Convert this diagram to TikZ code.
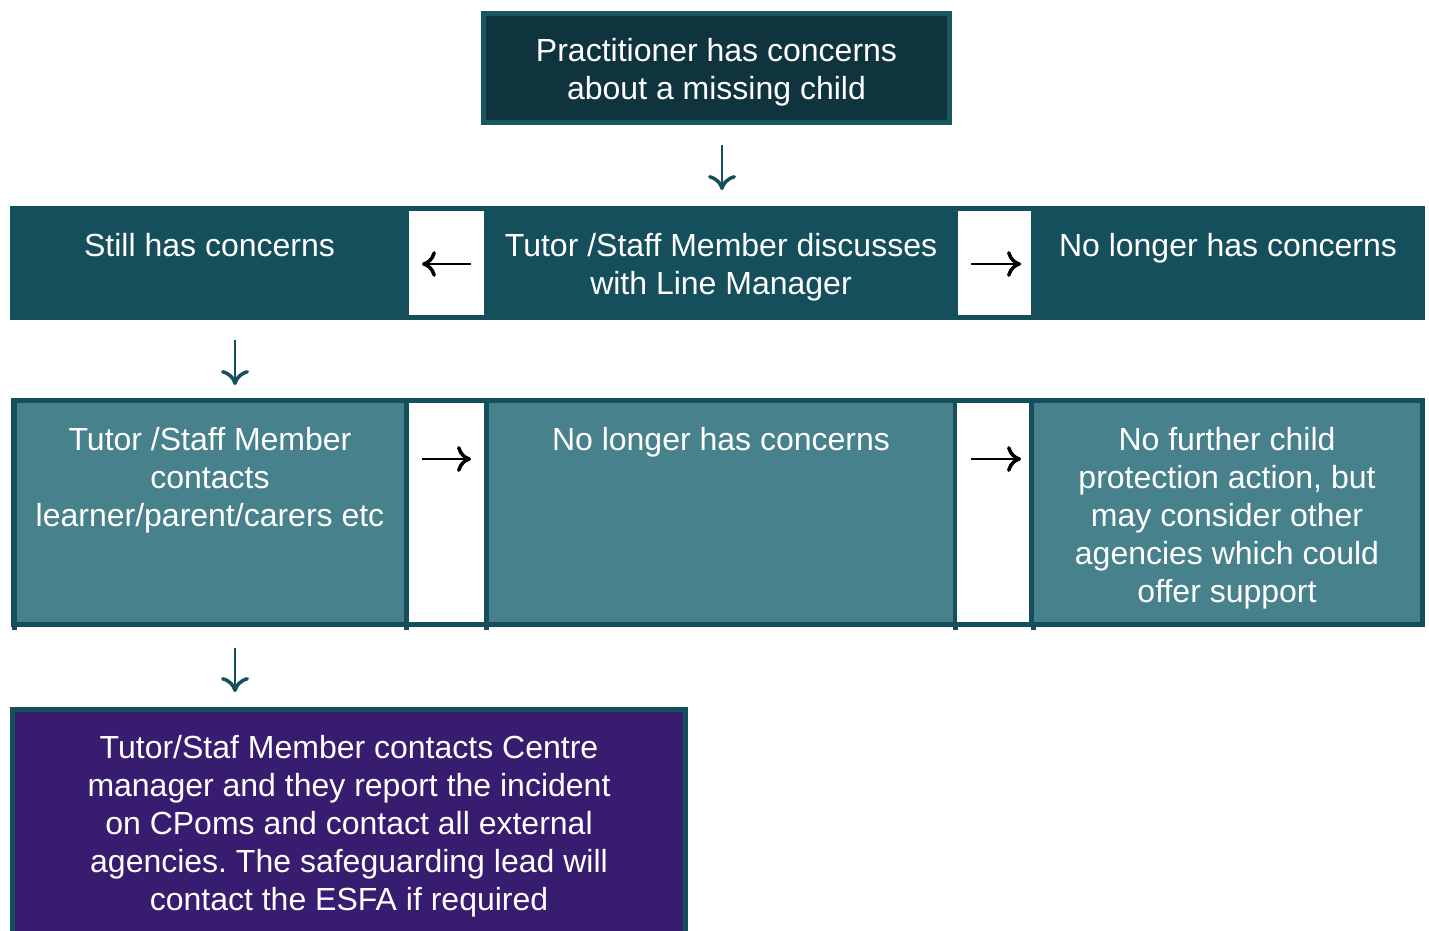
\documentclass[tikz,border=0pt]{standalone}
\usepackage{fontspec}
\setmainfont{Liberation Sans}
\usetikzlibrary{arrows.meta}
\definecolor{topfill}{HTML}{10343E}
\definecolor{topline}{HTML}{1A5562}
\definecolor{darkteal}{HTML}{164F5C}
\definecolor{lightteal}{HTML}{47818C}
\definecolor{purplebox}{HTML}{371C70}
\frenchspacing
\begin{document}
\begin{tikzpicture}[x=1pt,y=-1pt,
  txt/.style={text=white, font=\fontsize{32}{38}\selectfont\frenchspacing, align=center, inner sep=0pt, anchor=north},
  cell/.style={inner sep=0pt, outer sep=0pt, anchor=north west},
  downarrow/.style={draw=darkteal, line width=2.5pt, -{Computer Modern Rightarrow[length=15pt,width=28pt,line width=3.5pt]}},
  sidearrow/.style={draw=black, line width=2.2pt, -{Computer Modern Rightarrow[length=14pt,width=26pt,line width=3.5pt]}},
]
\clip (0,0) rectangle (1429,930);
\fill[white] (0,0) rectangle (1429,930);

% top box
\node[cell, fill=topfill, draw=topline, line width=5pt, minimum width=466pt, minimum height=109pt] (top) at (483.5,13.5) {};

% row 1
\node[cell, fill=darkteal, minimum width=1415pt, minimum height=114pt] (row1) at (10,206) {};
\node[cell, fill=white, minimum width=75pt, minimum height=104pt] (w1) at (409,211) {};
\node[cell, fill=white, minimum width=73pt, minimum height=104pt] (w2) at (958,211) {};

% row 2
\node[cell, fill=darkteal, minimum width=1414pt, minimum height=229pt] (row2) at (11,398) {};
\node[cell, fill=lightteal, minimum width=387pt, minimum height=219pt] (r2a) at (17,403) {};
\node[cell, fill=white, minimum width=75pt, minimum height=219pt] (w3) at (409,403) {};
\node[cell, fill=lightteal, minimum width=464pt, minimum height=219pt] (r2b) at (489,403) {};
\node[cell, fill=white, minimum width=72pt, minimum height=219pt] (w4) at (957,403) {};
\node[cell, fill=lightteal, minimum width=386pt, minimum height=219pt] (r2c) at (1034,403) {};
\fill[darkteal] (12,627) rectangle (17,630);
\fill[darkteal] (404,627) rectangle (409,630);
\fill[darkteal] (484,627) rectangle (489,630);
\fill[darkteal] (953,627) rectangle (958,630);
\fill[darkteal] (1031,627) rectangle (1036,630);

% bottom box
\node[cell, fill=purplebox, draw=darkteal, line width=5pt, minimum width=673pt, minimum height=260pt] (bot) at (12.5,709.5) {};

% texts
\node[txt] (ttop) at (716.5,38.5) {Practitioner has concerns\\about a missing child};
\node[txt] (t1a) at (209.5,233) {Still has concerns};
\node[txt] (t1b) at (721,233) {Tutor /Staff Member discusses\\with Line Manager};
\node[txt] (t1c) at (1228,233) {No longer has concerns};
\node[txt] (t2a) at (210,427) {Tutor /Staff Member\\contacts\\learner/parent/carers etc};
\node[txt] (t2b) at (721,427) {No longer has concerns};
\node[txt] (t2c) at (1227,427) {No further child\\protection action, but\\may consider other\\agencies which could\\offer support};
\node[txt] (tbot) at (349,735) {Tutor/Staf Member contacts Centre\\manager and they report the incident\\on CPoms and contact all external\\agencies. The safeguarding lead will\\contact the ESFA if required};

% down arrows
\coordinate (ax) at (235,0);
\coordinate (tx) at (722,0);
\draw[downarrow, shorten <=22.5pt, shorten >=16pt] (tx |- top.south) -- (tx |- row1.north);
\draw[downarrow, shorten <=20pt, shorten >=13pt] (ax |- row1.south) -- (ax |- row2.north);
\draw[downarrow, shorten <=21pt, shorten >=17.5pt] (ax |- row2.south) -- (ax |- bot.north);

% side arrows
\draw[sidearrow] ([xshift=-13pt,yshift=-1pt]w1.east) -- ([xshift=13pt,yshift=-1pt]w1.west);
\draw[sidearrow] ([xshift=13pt,yshift=-1pt]w2.west) -- ([xshift=-10pt,yshift=-1pt]w2.east);
\draw[sidearrow] ([xshift=13pt,yshift=-56pt]w3.north west) -- ([xshift=-13pt,yshift=-56pt]w3.north east);
\draw[sidearrow] ([xshift=14pt,yshift=-56pt]w4.north west) -- ([xshift=-8pt,yshift=-56pt]w4.north east);
\end{tikzpicture}
\end{document}
